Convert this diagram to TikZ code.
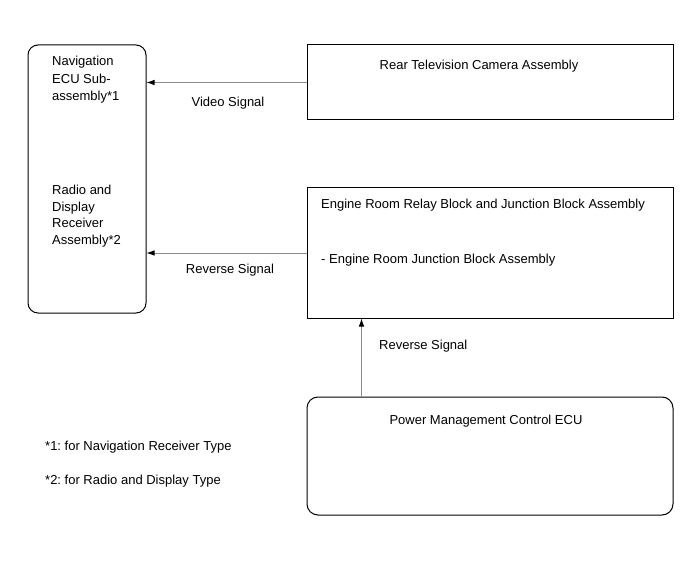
\documentclass[tikz,border=0pt]{standalone}
\usepackage{fontspec}
\setmainfont{Liberation Sans}
\frenchspacing
\usetikzlibrary{arrows.meta,positioning}

\begin{document}
\begin{tikzpicture}[
  x=1pt, y=-1pt,
  every node/.style={font=\fontsize{13}{17.5}\selectfont, inner sep=0pt},
  unit/.style={
    draw=black,
    line width=1pt,
    minimum width=366pt,
    minimum height=#1
  },
  ecu/.style={
    draw=black,
    line width=1pt,
    rounded corners=11pt,
    minimum width=366pt,
    minimum height=118pt
  },
  signal/.style={-{Latex[length=8pt,width=5.5pt,color=black]}, line width=0.8pt, draw=black!45},
  txt/.style={align=left, anchor=west}
]
\useasboundingbox (0,0) rectangle (691,564);

% boxes
\node[draw=black, line width=1pt, rounded corners=10pt,
      minimum width=118pt, minimum height=268pt] (nav) at (87,179) {};
\node[unit=75pt] (cam) at (490,82.5) {};
\node[unit=130pt, below=67pt of cam] (relay) {};
\node[ecu, below=78pt of relay] (pwr) {};

% box texts
\node[txt] (navtxt) at (52,80) {Navigation\\ECU Sub-\\assembly*1};
\node[txt, font=\fontsize{13}{16.5}\selectfont] (radiotxt) at (52,216) {Radio and\\Display\\Receiver\\Assembly*2};
\node (camtxt) at (479,66) {Rear Television Camera Assembly};
\node[txt] (relaytxt) at (321,205) {Engine Room Relay Block and Junction Block Assembly};
\node[txt] (jbtxt) at (321,260) {- Engine Room Junction Block Assembly};
\node (pwrtxt) at (486,421) {Power Management Control ECU};

% signals
\draw[signal] (cam.west) -- (cam.west -| nav.east);
\draw[signal] (relay.west) -- (relay.west -| nav.east);
\draw[signal] ([xshift=55pt]pwr.north west) -- ([xshift=55pt]relay.south west);
\node (video) at (228,103) {Video Signal};
\node (rev1) at (230,270) {Reverse Signal};
\node[txt] (rev2) at (379,346) {Reverse Signal};

% notes
\node[txt] (note1) at (45,447) {*1: for Navigation Receiver Type};
\node[txt] (note2) at (45,481) {*2: for Radio and Display Type};
\end{tikzpicture}
\end{document}
